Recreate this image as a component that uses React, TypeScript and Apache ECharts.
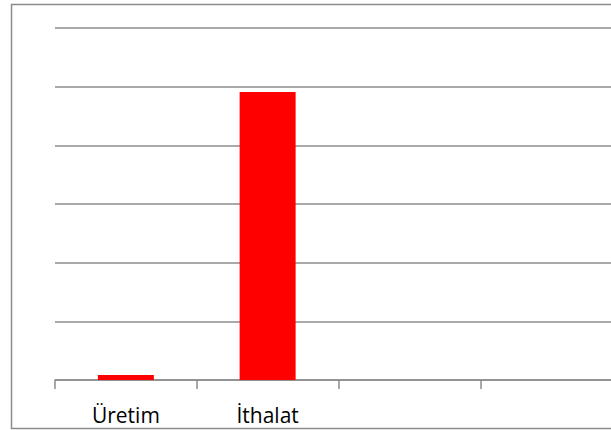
import React, { useEffect, useRef } from "react";
import * as echarts from "echarts";

const categories: string[] = ["Üretim", "İthalat", "", ""];
const values: number[] = [1.7, 98.2, 0, 0];
const yMax = 120;
const yInterval = 20;

export default function App() {
  const ref = useRef<HTMLDivElement>(null);
  useEffect(() => {
    if (!ref.current) return;
    const chart = echarts.init(ref.current, undefined, { renderer: "svg" });
    chart.setOption({
      animation: false,
      backgroundColor: "#ffffff",
      graphic: [
        {
          type: "rect",
          shape: { x: 11.5, y: 4.5, width: 700, height: 424 },
          style: { fill: "none", stroke: "#8c8c8c", lineWidth: 1.5 },
          silent: true,
        },
      ],
      grid: { left: 55, top: 28, bottom: 50, right: 0 },
      xAxis: {
        type: "category",
        data: categories,
        axisLine: { show: true, lineStyle: { color: "#8c8c8c", width: 1.5 } },
        axisTick: { show: true, length: 9, lineStyle: { color: "#8c8c8c", width: 1.5 } },
        axisLabel: {
          color: "#000000",
          fontFamily: "Open Sans",
          fontSize: 21,
          margin: 24,
        },
      },
      yAxis: {
        type: "value",
        min: 0,
        max: yMax,
        interval: yInterval,
        axisLine: { show: false },
        axisTick: { show: false },
        axisLabel: { show: false },
        splitLine: { show: true, lineStyle: { color: "#8c8c8c", width: 1.5 } },
      },
      series: [
        {
          type: "bar",
          data: values,
          barWidth: 56,
          itemStyle: { color: "#ff0000" },
        },
      ],
    });
    return () => chart.dispose();
  }, []);
  return (
    <div
      style={{
        position: "fixed",
        left: 0,
        top: 0,
        width: 611,
        height: 430,
        overflow: "hidden",
        background: "#ffffff",
      }}
    >
      <div ref={ref} style={{ width: 622, height: 430 }} />
    </div>
  );
}
